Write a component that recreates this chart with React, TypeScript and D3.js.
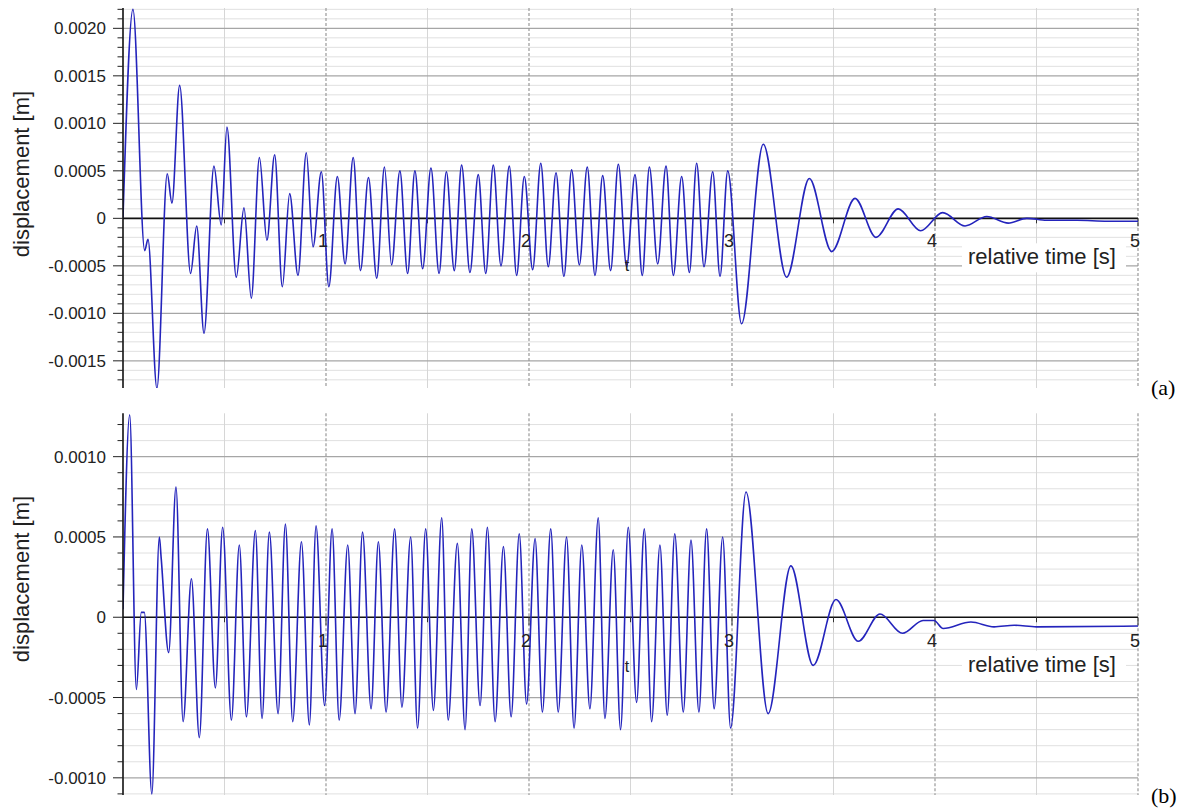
import React from "react";
import * as d3 from "d3";

// ---------- data (extrema) ----------
const timeA = [
  0.0, 0.049, 0.107, 0.123, 0.167, 0.218, 0.241, 0.279, 0.333, 0.363, 0.399, 0.448, 0.484, 0.512,
  0.558, 0.596, 0.632, 0.672, 0.709, 0.747, 0.785, 0.821, 0.862, 0.903, 0.936, 0.977, 1.014, 1.056,
  1.094, 1.134, 1.17, 1.209, 1.25, 1.288, 1.323, 1.364, 1.402, 1.438, 1.476, 1.517, 1.557, 1.593,
  1.632, 1.668, 1.709, 1.75, 1.787, 1.824, 1.862, 1.903, 1.939, 1.977, 2.018, 2.058, 2.095, 2.133,
  2.172, 2.21, 2.248, 2.287, 2.325, 2.363, 2.402, 2.44, 2.481, 2.522, 2.558, 2.593, 2.634, 2.675,
  2.711, 2.752, 2.79, 2.826, 2.862, 2.905, 2.941, 2.979, 3.047, 3.154, 3.269, 3.381, 3.491, 3.606,
  3.709, 3.819, 3.929, 4.038, 4.148, 4.255, 4.361, 4.452, 4.55, 4.7, 4.85, 5.0,
];
const dispA = [
  0.00001, 0.0022, -0.00034, -0.00022, -0.00179, 0.00047, 0.00016, 0.0014, -0.00058, -0.00008,
  -0.00121, 0.00055, -0.00007, 0.00096, -0.00062, 0.00011, -0.00084, 0.00064, -0.00023, 0.00067,
  -0.00072, 0.00026, -0.0006, 0.00069, -0.0003, 0.00049, -0.00072, 0.00044, -0.00048, 0.00064,
  -0.00055, 0.00043, -0.00063, 0.00054, -0.00049, 0.0005, -0.00058, 0.0005, -0.00053, 0.00053,
  -0.00058, 0.00049, -0.00055, 0.00056, -0.00057, 0.00046, -0.00058, 0.00056, -0.0005, 0.00055,
  -0.0006, 0.00044, -0.00054, 0.00058, -0.00051, 0.00048, -0.00061, 0.00051, -0.00049, 0.00054,
  -0.0006, 0.00045, -0.00055, 0.00057, -0.00051, 0.00046, -0.0006, 0.00054, -0.00048, 0.00055,
  -0.0006, 0.00044, -0.00057, 0.00058, -0.00051, 0.00049, -0.00061, 0.0005, -0.00111, 0.00078,
  -0.00062, 0.00042, -0.00035, 0.00021, -0.0002, 0.0001, -0.00013, 0.00006, -0.00008, 0.00002,
  -0.00005, 0.0, -0.00002, -0.00002, -0.00003, -0.00003,
];

const timeB = [
  0.0, 0.033, 0.066, 0.09, 0.105, 0.142, 0.179, 0.188, 0.225, 0.261, 0.296, 0.337, 0.376, 0.416,
  0.455, 0.491, 0.534, 0.573, 0.608, 0.652, 0.685, 0.721, 0.764, 0.8, 0.836, 0.879, 0.918, 0.951,
  0.993, 1.03, 1.065, 1.107, 1.143, 1.18, 1.222, 1.258, 1.296, 1.338, 1.374, 1.417, 1.451, 1.491,
  1.529, 1.57, 1.602, 1.647, 1.685, 1.718, 1.759, 1.795, 1.833, 1.874, 1.912, 1.952, 1.988, 2.03,
  2.066, 2.107, 2.144, 2.185, 2.222, 2.26, 2.3, 2.341, 2.374, 2.415, 2.451, 2.489, 2.53, 2.568,
  2.604, 2.645, 2.681, 2.718, 2.76, 2.798, 2.837, 2.875, 2.912, 2.954, 2.993, 3.069, 3.178, 3.29,
  3.4, 3.512, 3.622, 3.729, 3.84, 3.941, 3.995, 4.04, 4.177, 4.291, 4.39, 4.5, 5.0,
];
const dispB = [
  0.00005, 0.00126, -0.00045, 0.00003, 0.00003, -0.0011, 0.0005, 0.00037, -0.00022, 0.00081,
  -0.00065, 0.00024, -0.00075, 0.00055, -0.00044, 0.00056, -0.00064, 0.00045, -0.00062, 0.00054,
  -0.00063, 0.00053, -0.0006, 0.00058, -0.00065, 0.00047, -0.00067, 0.00057, -0.00055, 0.00055,
  -0.00064, 0.00045, -0.0006, 0.00053, -0.00057, 0.00047, -0.00059, 0.00055, -0.00056, 0.0005,
  -0.00069, 0.00055, -0.00058, 0.00062, -0.00064, 0.00046, -0.0007, 0.00055, -0.00055, 0.00056,
  -0.00065, 0.00044, -0.00062, 0.00052, -0.00054, 0.00049, -0.00059, 0.00055, -0.00059, 0.0005,
  -0.00069, 0.00045, -0.00057, 0.00062, -0.00063, 0.00042, -0.0007, 0.00056, -0.00053, 0.00055,
  -0.00065, 0.00045, -0.00061, 0.00052, -0.00059, 0.00048, -0.00059, 0.00055, -0.00057, 0.0005,
  -0.00069, 0.00078, -0.0006, 0.00032, -0.0003, 0.00011, -0.00015, 0.00002, -0.0001, -0.00002,
  -0.00002, -0.00007, -0.00003, -0.00006, -0.00005, -0.00006, -0.000055,
];

const xTickValues = [1, 2, 3, 4, 5];
const yTicksA = [-0.0015, -0.001, -0.0005, 0, 0.0005, 0.001, 0.0015, 0.002];
const yTicksB = [-0.001, -0.0005, 0, 0.0005, 0.001];
const xTitle = "relative time [s]";
const yTitle = "displacement [m]";
const panelLabels = ["(a)", "(b)"];

// ---------- layout ----------
const W = 1188;
const H = 809;
const X0 = 123;
const X1 = 1138;

type PanelCfg = {
  id: string;
  times: number[];
  values: number[];
  yTicks: number[];
  domain: [number, number];
  top: number;
  bottom: number;
  titleY: number;
  xLabelBaselineOff: number;
  relBaselineOff: number;
  tBaselineOff: number;
  label: string;
  labelBaseline: number;
};

const panels: PanelCfg[] = [
  {
    id: "a",
    times: timeA,
    values: dispA,
    yTicks: yTicksA,
    domain: [-0.001786, 0.002214],
    top: 8,
    bottom: 388,
    titleY: 174,
    xLabelBaselineOff: 29,
    relBaselineOff: 46,
    tBaselineOff: 53,
    label: panelLabels[0],
    labelBaseline: 395,
  },
  {
    id: "b",
    times: timeB,
    values: dispB,
    yTicks: yTicksB,
    domain: [-0.001107, 0.00127],
    top: 413.3,
    bottom: 795,
    titleY: 579,
    xLabelBaselineOff: 30,
    relBaselineOff: 54.5,
    tBaselineOff: 55,
    label: panelLabels[1],
    labelBaseline: 803,
  },
];

const SANS = "'Liberation Sans', Arial, sans-serif";
const SERIF = "'Liberation Serif', 'Times New Roman', serif";
const LINE_COLOR = "#2424bc";

const fmt = (v: number) => (v === 0 ? "0" : d3.format(".4f")(v).replace("−", "-"));

function Panel({ cfg }: { cfg: PanelCfg }) {
  const x = d3.scaleLinear().domain([0, 5]).range([X0, X1]);
  const y = d3.scaleLinear().domain(cfg.domain).range([cfg.bottom, cfg.top]);
  const zeroY = y(0);

  const step = 0.0001;
  const lo = Math.ceil(cfg.domain[0] / step - 1e-6);
  const hi = Math.floor(cfg.domain[1] / step + 1e-6);
  const fine = d3.range(lo, hi + 1);

  const halfSteps = d3.range(1, 11).map((i) => i * 0.5);

  const pts = cfg.times.map((t, i) => [t, cfg.values[i]] as [number, number]);
  const line = d3
    .line<[number, number]>()
    .x((d) => x(d[0]))
    .y((d) => y(d[1]))
    .curve(d3.curveMonotoneX);

  const clipId = `clip-${cfg.id}`;
  const clipLblId = `cliplbl-${cfg.id}`;
  const relX = 968;
  const relBase = zeroY + cfg.relBaselineOff;

  return (
    <g>
      <defs>
        <clipPath id={clipId}>
          <rect x={X0} y={cfg.top} width={X1 - X0 + 1} height={cfg.bottom - cfg.top} />
        </clipPath>
        <clipPath id={clipLblId}>
          <rect x={X0} y={cfg.top} width={X1 - X0 + 2} height={cfg.bottom - cfg.top} />
        </clipPath>
      </defs>

      {/* minor horizontal grid */}
      {fine
        .filter((i) => i % 5 !== 0)
        .map((i) => (
          <line
            key={`hm${i}`}
            x1={X0}
            x2={X1}
            y1={y(i * step)}
            y2={y(i * step)}
            stroke="#e0e0e0"
            strokeWidth={1}
          />
        ))}
      {/* minor vertical grid (half seconds) */}
      {halfSteps
        .filter((t) => t % 1 !== 0)
        .map((t) => (
          <line
            key={`vm${t}`}
            x1={x(t)}
            x2={x(t)}
            y1={cfg.top}
            y2={cfg.bottom}
            stroke="#d6d6d6"
            strokeWidth={1}
          />
        ))}
      {/* major horizontal grid */}
      {fine
        .filter((i) => i % 5 === 0 && i !== 0)
        .map((i) => (
          <line
            key={`hM${i}`}
            x1={X0}
            x2={X1}
            y1={y(i * step)}
            y2={y(i * step)}
            stroke="#a6a6a6"
            strokeWidth={1.3}
          />
        ))}
      {/* major vertical grid (integers) */}
      {xTickValues.map((t) => (
        <line
          key={`vM${t}`}
          x1={x(t)}
          x2={x(t)}
          y1={cfg.top}
          y2={cfg.bottom}
          stroke="#999999"
          strokeWidth={1.2}
          strokeDasharray="3,2"
        />
      ))}

      {/* box behind axis title */}
      <rect x={relX - 6} y={relBase - 21} width={164} height={29} fill="#ffffff" />

      {/* zero axis */}
      <line x1={X0} x2={X1} y1={zeroY} y2={zeroY} stroke="#111" strokeWidth={1.6} />
      {halfSteps.map((t) => (
        <line
          key={`xt${t}`}
          x1={x(t)}
          x2={x(t)}
          y1={zeroY}
          y2={zeroY + (t % 1 === 0 ? 8 : 5)}
          stroke="#333"
          strokeWidth={1}
        />
      ))}

      {/* data line */}
      <path
        d={line(pts) || ""}
        fill="none"
        stroke={LINE_COLOR}
        strokeWidth={1.6}
        strokeLinejoin="round"
        clipPath={`url(#${clipId})`}
      />

      {/* y axis */}
      <line x1={X0} x2={X0} y1={cfg.top} y2={cfg.bottom} stroke="#111" strokeWidth={1.6} />
      {fine.map((i) => (
        <line
          key={`yt${i}`}
          x1={X0 - (i % 5 === 0 ? 10 : 5.5)}
          x2={X0}
          y1={y(i * step)}
          y2={y(i * step)}
          stroke="#222"
          strokeWidth={1}
        />
      ))}
      {cfg.yTicks.map((v) => (
        <text
          key={`yl${v}`}
          x={106}
          y={y(v)}
          dy="0.36em"
          textAnchor="end"
          fontFamily={SANS}
          fontSize={17}
          fill="#222"
        >
          {fmt(v)}
        </text>
      ))}

      {/* x tick labels */}
      <g clipPath={`url(#${clipLblId})`}>
        {xTickValues.map((t) => (
          <text
            key={`xl${t}`}
            x={x(t) - 3}
            y={zeroY + cfg.xLabelBaselineOff}
            textAnchor="middle"
            fontFamily={SANS}
            fontSize={18}
            fill="#222"
          >
            {t}
          </text>
        ))}
      </g>

      {/* "t" marker */}
      <text x={627} y={zeroY + cfg.tBaselineOff} textAnchor="middle" fontFamily={SANS} fontSize={16} fill="#222">
        t
      </text>

      {/* x title */}
      <text x={relX} y={relBase} fontFamily={SANS} fontSize={22} fill="#222">
        {xTitle}
      </text>

      {/* y title */}
      <text
        transform={`translate(29,${cfg.titleY}) rotate(-90)`}
        textAnchor="middle"
        fontFamily={SANS}
        fontSize={22}
        fill="#222"
      >
        {yTitle}
      </text>

      {/* panel label */}
      <text x={1151} y={cfg.labelBaseline} fontFamily={SERIF} fontSize={22} fill="#000">
        {cfg.label}
      </text>
    </g>
  );
}

export default function App() {
  return (
    <div style={{ position: "absolute", left: 0, top: 0 }}>
      <svg width={W} height={H} viewBox={`0 0 ${W} ${H}`} style={{ display: "block", background: "#fff" }}>
        <rect x={0} y={0} width={W} height={H} fill="#ffffff" />
        {panels.map((p) => (
          <Panel key={p.id} cfg={p} />
        ))}
      </svg>
    </div>
  );
}
